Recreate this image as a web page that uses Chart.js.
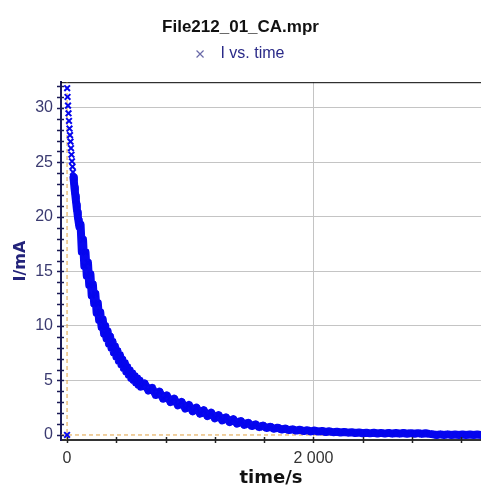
<!DOCTYPE html>
<html>
<head>
<meta charset="utf-8">
<script src="https://cdn.jsdelivr.net/npm/chart.js@4/dist/chart.umd.min.js"></script>
<style>
  html, body { margin: 0; padding: 0; background: #fff; overflow: hidden; }
  canvas { display: block; }
</style>
</head>
<body>
<canvas id="ca" width="481" height="486"></canvas>
<script>
const chartTitle = "File212_01_CA.mpr"
const seriesName = "I vs. time"

// time/s
const times = [
    0, 1, 4, 8, 12, 16, 20, 24, 28, 32, 36, 40, 44, 48, 52, 56, 60, 64, 68, 72, 76, 80, 84, 88, 92, 96, 100,
    110, 120, 130, 140, 150, 160, 170, 180, 190, 200,
    210, 220, 230, 240, 250, 260, 270, 280, 290, 300,
    310, 320, 330, 340, 350, 360, 370, 380, 390, 400,
    410, 420, 430, 440, 450, 460, 470, 480, 490, 500,
    510, 520, 530, 540, 550, 560, 570, 580, 590, 600,
    630, 660, 690, 720, 750, 780, 810, 840, 870, 900,
    930, 960, 990, 1020, 1050, 1080, 1110, 1140, 1170, 1200,
    1230, 1260, 1290, 1320, 1350, 1380, 1410, 1440, 1470, 1500,
    1530, 1560, 1590, 1620, 1650, 1680, 1710, 1740, 1770, 1800,
    1830, 1860, 1890, 1920, 1950, 1980, 2010, 2040, 2070, 2100,
    2130, 2160, 2190, 2220, 2250, 2280, 2310, 2340, 2370, 2400,
    2430, 2460, 2490, 2520, 2550, 2580, 2610, 2640, 2670, 2700,
    2730, 2760, 2790, 2820, 2850, 2880, 2910, 2940, 2970, 3000,
    3030, 3060, 3090, 3120, 3150, 3180, 3210, 3240, 3270, 3300,
    3330, 3360
]
// I/mA
const currents = [
    0, 31.8, 31.0, 30.2, 29.5, 28.8, 28.1, 27.5, 26.9, 26.3, 25.7, 25.1, 24.6, 24.1, 23.6, 23.2, 22.7, 22.3, 21.9, 21.5, 21.1, 20.7, 20.4, 20.0, 19.7, 19.4, 19.1,
    19.3, 16.8, 17.9, 15.5, 16.75, 14.6, 15.8, 13.75, 14.75, 12.8,
    13.8, 12.05, 12.95, 11.2, 12.1, 10.55, 11.25, 9.9, 10.6, 9.3,
    10.0, 8.85, 9.5, 8.37, 9.02, 8.0, 8.55, 7.57, 8.12, 7.19,
    7.7, 6.81, 7.33, 6.48, 6.91, 6.15, 6.6, 5.82, 6.22, 5.53,
    5.92, 5.24, 5.66, 5.05, 5.4, 4.81, 5.19, 4.62, 4.98, 4.43,
    4.72, 4.08, 4.32, 3.68, 3.97, 3.33, 3.62, 3.03, 3.32, 2.73,
    3.02, 2.43, 2.74, 2.18, 2.5, 1.95, 2.26, 1.74, 2.03, 1.54,
    1.81, 1.35, 1.61, 1.19, 1.44, 1.05, 1.27, 0.93, 1.11, 0.82,
    0.97, 0.72, 0.86, 0.64, 0.76, 0.57, 0.67, 0.5, 0.59, 0.45,
    0.52, 0.4, 0.48, 0.36, 0.44, 0.33, 0.41, 0.31, 0.37, 0.27,
    0.34, 0.25, 0.3, 0.23, 0.28, 0.21, 0.25, 0.18, 0.23, 0.16,
    0.21, 0.15, 0.2, 0.14, 0.19, 0.13, 0.19, 0.12, 0.18, 0.12,
    0.18, 0.11, 0.17, 0.11, 0.17, 0.1, 0.16, 0.1, 0.06, 0.0,
    0.06, 0.0, 0.06, 0.0, 0.05, 0.0, 0.05, 0.0, 0.05, 0.0,
    0.05, 0.0
]

const xRange = [-49, 3360]
const yRange = [-0.46, 32.35]
const xTicks = [0, 2000]
const yTicks = [0, 5, 10, 15, 20, 25, 30]
const xMinorStep = 400
const yMinorStep = 1
// first samples stay as loose crosses, the rest merge into a solid trace
const looseUntil = 52

let points = times.map((t, i) => ({ x: t, y: currents[i] }))

function spaced(v) {
    return String(v).replace(/\B(?=(\d{3})+(?!\d))/g, ' ')
}

// small tick marks crossing both axes + top frame line
const axisTicks = {
    id: 'axisTicks',
    afterDraw(chart) {
        const c = chart.ctx
        const xs = chart.scales.x, ys = chart.scales.y
        const area = chart.chartArea
        c.save()
        c.lineWidth = 1.5
        c.strokeStyle = '#1a1a55'
        for (let v = 0; v <= yRange[1]; v += yMinorStep) {
            let py = Math.round(ys.getPixelForValue(v)) + 0.5
            c.beginPath(); c.moveTo(area.left - 4, py); c.lineTo(area.left + 3, py); c.stroke()
        }
        c.strokeStyle = '#222'
        for (let v = 0; v <= xRange[1]; v += xMinorStep) {
            let px = Math.round(xs.getPixelForValue(v)) + 0.5
            c.beginPath(); c.moveTo(px, area.bottom - 3); c.lineTo(px, area.bottom + 3); c.stroke()
        }
        c.restore()
    },
    beforeDatasetsDraw(chart) {
        const c = chart.ctx
        const area = chart.chartArea
        c.save()
        c.strokeStyle = '#000'
        c.lineWidth = 1
        c.beginPath(); c.moveTo(area.left, area.top + 0.5); c.lineTo(area.right, area.top + 0.5); c.stroke()
        c.restore()
    }
}

const ctx = document.getElementById('ca')
const config = {
    type: 'scatter',
    data: {
        datasets: [{
            label: seriesName,
            data: points,
            showLine: true,
            tension: 0,
            borderWidth: 8,
            borderJoinStyle: 'round',
            borderCapStyle: 'round',
            segment: {
                borderColor: c => c.p0.parsed.x < looseUntil ? 'rgba(0,0,0,0)' : undefined
            },
            pointStyle: 'crossRot',
            pointRadius: 4,
            pointBorderWidth: 2,
            pointBorderColor: '#0505ee',
            borderColor: '#0808f0',
            backgroundColor: '#0505ee',
            order: 0
        }, {
            label: 'zero-x',
            data: [{ x: 0, y: yRange[0] }, { x: 0, y: yRange[1] }],
            showLine: true,
            pointRadius: 0,
            borderColor: '#e0a040',
            borderWidth: 1,
            borderDash: [4, 3],
            order: 2
        }, {
            label: 'zero-y',
            data: [{ x: xRange[0], y: 0 }, { x: xRange[1], y: 0 }],
            showLine: true,
            pointRadius: 0,
            borderColor: '#e0a040',
            borderWidth: 1,
            borderDash: [4, 3],
            order: 2
        }]
    },
    options: {
        responsive: false,
        animation: false,
        layout: { autoPadding: false, padding: { top: 4, left: 0, right: 0, bottom: 0 } },
        plugins: {
            title: {
                display: true,
                text: chartTitle,
                color: '#111',
                font: { family: 'Liberation Sans, Arial', size: 17, weight: 'bold', lineHeight: 1 },
                padding: { top: 15, bottom: 2 }
            },
            // empty spacer between the legend and the plot
            subtitle: {
                display: true,
                text: '',
                weight: 500,
                font: { size: 1 },
                padding: { top: 9, bottom: 0 }
            },
            legend: {
                display: true,
                labels: {
                    usePointStyle: true,
                    boxWidth: 7,
                    boxHeight: 7,
                    color: '#2a2a88',
                    font: { family: 'Liberation Sans, Arial', size: 16 },
                    padding: 8,
                    generateLabels(chart) {
                        return [{
                            text: '  ' + seriesName,
                            pointStyle: 'crossRot',
                            strokeStyle: '#6a6aa8',
                            fillStyle: '#6a6aa8',
                            lineWidth: 1.2,
                            fontColor: '#2a2a88',
                            datasetIndex: 0
                        }]
                    }
                }
            },
            tooltip: { enabled: false }
        },
        scales: {
            x: {
                type: 'linear',
                min: xRange[0],
                max: xRange[1],
                afterBuildTicks: s => { s.ticks = xTicks.map(v => ({ value: v })) },
                afterFit: s => { s.height = 46; s.paddingRight = 0 },
                ticks: {
                    color: '#333',
                    font: { family: 'Liberation Sans, Arial', size: 16 },
                    padding: 9,
                    maxRotation: 0,
                    callback: v => spaced(v)
                },
                grid: {
                    drawTicks: false,
                    color: c => c.tick && c.tick.value === 2000 ? '#c4c4c4' : 'rgba(0,0,0,0)',
                    lineWidth: 1
                },
                border: { color: '#333', width: 2 },
                title: {
                    display: true,
                    text: 'time/s',
                    color: '#111',
                    font: { family: 'DejaVu Sans', size: 18, weight: 'bold', lineHeight: 0.9 },
                    padding: 0
                }
            },
            y: {
                type: 'linear',
                min: yRange[0],
                max: yRange[1],
                afterBuildTicks: s => { s.ticks = yTicks.map(v => ({ value: v })) },
                afterFit: s => { s.width = 61 },
                ticks: {
                    color: '#3a3a70',
                    font: { family: 'Liberation Sans, Arial', size: 16 },
                    padding: 8,
                    callback: v => spaced(v)
                },
                grid: {
                    drawTicks: false,
                    color: c => c.tick && c.tick.value !== 0 ? '#c4c4c4' : 'rgba(0,0,0,0)',
                    lineWidth: 1
                },
                border: { color: '#1a1a55', width: 2 },
                title: {
                    display: true,
                    text: 'I/mA',
                    color: '#23237a',
                    font: { family: 'DejaVu Sans', size: 16, weight: 'bold' },
                    padding: { top: 11, bottom: 0 }
                }
            }
        }
    },
    plugins: [axisTicks]
}
let chart = new Chart(ctx, config)
</script>
</body>
</html>
